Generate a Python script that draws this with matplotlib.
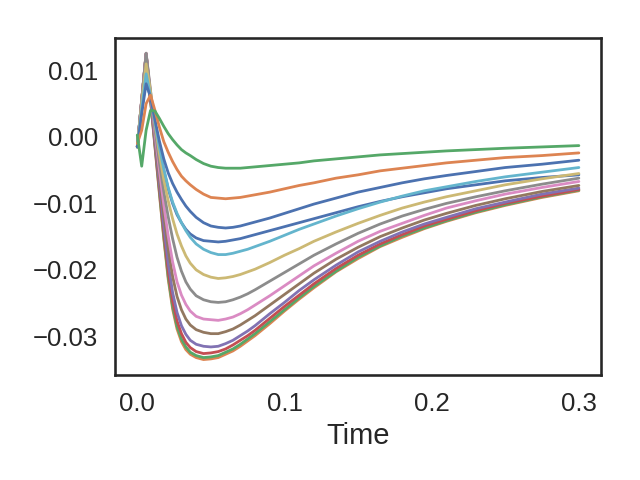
import matplotlib
matplotlib.use('agg')
import matplotlib.pyplot as plt
import matplotlib.ticker as mticker
import seaborn as sns

# sample times
time = [0, 0.003, 0.006, 0.009, 0.012, 0.015, 0.018, 0.021, 0.024, 0.027, 0.03, 0.033,
        0.036, 0.04, 0.045, 0.05, 0.055, 0.06, 0.065, 0.07, 0.075, 0.08, 0.09, 0.1,
        0.11, 0.12, 0.135, 0.15, 0.165, 0.18, 0.195, 0.21, 0.23, 0.25, 0.275, 0.3]

# one response per run (drawn in this order)
run_00 = [-0.0015, 0.0040, 0.0088, 0.0058, 0.0019, -0.0018, -0.0050, -0.0078, -0.0100, -0.0117, -0.0129, -0.0139,
          -0.0146, -0.0152, -0.0156, -0.0157, -0.0158, -0.0157, -0.0155, -0.0153, -0.0150, -0.0147, -0.0141, -0.0135,
          -0.0129, -0.0123, -0.0114, -0.0105, -0.0097, -0.0090, -0.0084, -0.0078, -0.0072, -0.0066, -0.0061, -0.0057]
run_01 = [-0.0015, 0.0055, 0.0125, 0.0055, -0.0015, -0.0085, -0.0153, -0.0214, -0.0259, -0.0289, -0.0308, -0.0320,
          -0.0327, -0.0332, -0.0335, -0.0334, -0.0332, -0.0327, -0.0322, -0.0315, -0.0307, -0.0299, -0.0281, -0.0262,
          -0.0244, -0.0227, -0.0203, -0.0183, -0.0165, -0.0151, -0.0138, -0.0127, -0.0114, -0.0103, -0.0091, -0.0081]
run_02 = [-0.0015, 0.0055, 0.0125, 0.0056, -0.0013, -0.0082, -0.0150, -0.0210, -0.0255, -0.0285, -0.0304, -0.0316,
          -0.0324, -0.0329, -0.0332, -0.0331, -0.0329, -0.0324, -0.0319, -0.0312, -0.0304, -0.0296, -0.0278, -0.0260,
          -0.0242, -0.0225, -0.0202, -0.0181, -0.0164, -0.0149, -0.0137, -0.0126, -0.0113, -0.0102, -0.0090, -0.0080]
run_03 = [-0.0015, 0.0055, 0.0125, 0.0058, -0.0010, -0.0077, -0.0143, -0.0202, -0.0247, -0.0277, -0.0296, -0.0309,
          -0.0317, -0.0323, -0.0326, -0.0325, -0.0323, -0.0319, -0.0313, -0.0306, -0.0299, -0.0291, -0.0273, -0.0255,
          -0.0238, -0.0221, -0.0198, -0.0178, -0.0161, -0.0147, -0.0134, -0.0124, -0.0111, -0.0100, -0.0089, -0.0079]
run_04 = [-0.0015, 0.0055, 0.0125, 0.0060, -0.0006, -0.0070, -0.0133, -0.0190, -0.0234, -0.0264, -0.0284, -0.0297,
          -0.0306, -0.0312, -0.0315, -0.0316, -0.0315, -0.0311, -0.0306, -0.0299, -0.0292, -0.0284, -0.0266, -0.0249,
          -0.0231, -0.0215, -0.0193, -0.0173, -0.0157, -0.0143, -0.0131, -0.0121, -0.0108, -0.0098, -0.0086, -0.0077]
run_05 = [-0.0015, 0.0055, 0.0126, 0.0063, 0.0000, -0.0060, -0.0117, -0.0168, -0.0210, -0.0240, -0.0260, -0.0274,
          -0.0283, -0.0290, -0.0294, -0.0296, -0.0296, -0.0293, -0.0289, -0.0283, -0.0276, -0.0269, -0.0253, -0.0237,
          -0.0221, -0.0205, -0.0184, -0.0166, -0.0150, -0.0137, -0.0125, -0.0115, -0.0103, -0.0093, -0.0082, -0.0073]
run_06 = [-0.0015, 0.0056, 0.0126, 0.0066, 0.0006, -0.0050, -0.0102, -0.0149, -0.0188, -0.0218, -0.0238, -0.0252,
          -0.0262, -0.0270, -0.0274, -0.0275, -0.0276, -0.0274, -0.0271, -0.0266, -0.0260, -0.0253, -0.0239, -0.0224,
          -0.0209, -0.0194, -0.0175, -0.0157, -0.0142, -0.0130, -0.0118, -0.0107, -0.0096, -0.0086, -0.0076, -0.0067]
run_07 = [-0.0015, 0.0056, 0.0126, 0.0070, 0.0013, -0.0038, -0.0082, -0.0120, -0.0153, -0.0181, -0.0202, -0.0218,
          -0.0229, -0.0239, -0.0245, -0.0248, -0.0249, -0.0248, -0.0245, -0.0241, -0.0236, -0.0230, -0.0217, -0.0204,
          -0.0191, -0.0178, -0.0161, -0.0145, -0.0131, -0.0119, -0.0109, -0.0100, -0.0090, -0.0081, -0.0071, -0.0062]
run_08 = [-0.0015, 0.0050, 0.0110, 0.0068, 0.0020, -0.0025, -0.0064, -0.0096, -0.0123, -0.0146, -0.0164, -0.0179,
          -0.0190, -0.0200, -0.0207, -0.0211, -0.0213, -0.0212, -0.0210, -0.0207, -0.0203, -0.0199, -0.0189, -0.0178,
          -0.0168, -0.0157, -0.0143, -0.0130, -0.0118, -0.0107, -0.0098, -0.0090, -0.0081, -0.0072, -0.0063, -0.0055]
run_09 = [-0.0015, 0.0042, 0.0095, 0.0062, 0.0022, -0.0015, -0.0048, -0.0076, -0.0098, -0.0115, -0.0129, -0.0141,
          -0.0151, -0.0161, -0.0169, -0.0174, -0.0177, -0.0177, -0.0175, -0.0172, -0.0169, -0.0165, -0.0157, -0.0148,
          -0.0139, -0.0131, -0.0119, -0.0108, -0.0098, -0.0089, -0.0081, -0.0075, -0.0067, -0.0060, -0.0053, -0.0046]
run_10 = [-0.0015, 0.0035, 0.0080, 0.0060, 0.0026, -0.0006, -0.0033, -0.0054, -0.0070, -0.0083, -0.0094, -0.0104,
          -0.0112, -0.0121, -0.0129, -0.0134, -0.0136, -0.0137, -0.0136, -0.0134, -0.0131, -0.0128, -0.0122, -0.0115,
          -0.0108, -0.0101, -0.0092, -0.0083, -0.0076, -0.0069, -0.0063, -0.0058, -0.0052, -0.0046, -0.0041, -0.0035]
run_11 = [-0.0010, 0.0010, 0.0050, 0.0063, 0.0040, 0.0015, -0.0007, -0.0023, -0.0037, -0.0049, -0.0059, -0.0066,
          -0.0072, -0.0079, -0.0086, -0.0091, -0.0092, -0.0093, -0.0092, -0.0091, -0.0089, -0.0087, -0.0083, -0.0078,
          -0.0073, -0.0069, -0.0062, -0.0057, -0.0051, -0.0047, -0.0043, -0.0039, -0.0035, -0.0031, -0.0028, -0.0024]
run_12 = [0.0003, -0.0044, 0.0010, 0.0040, 0.0039, 0.0028, 0.0016, 0.0005, -0.0004, -0.0012, -0.0019, -0.0024,
          -0.0028, -0.0034, -0.0040, -0.0044, -0.0046, -0.0047, -0.0047, -0.0047, -0.0046, -0.0045, -0.0043, -0.0041,
          -0.0039, -0.0036, -0.0033, -0.0030, -0.0027, -0.0025, -0.0023, -0.0021, -0.0019, -0.0017, -0.0015, -0.0013]

runs = [run_00, run_01, run_02, run_03, run_04, run_05, run_06,
        run_07, run_08, run_09, run_10, run_11, run_12]

sns.set_theme(context='talk', style='white', palette='deep')
plt.rcParams['font.family'] = ['Liberation Sans', 'DejaVu Sans']

fig, ax = plt.subplots(figsize=(6.4, 4.8), dpi=100)
colors = sns.color_palette('deep', 10)
for i, run in enumerate(runs):
    ax.plot(time, run, color=colors[i % 10], lw=2.0)

ax.xaxis.set_major_locator(mticker.MultipleLocator(0.1))
ax.yaxis.set_major_locator(mticker.MultipleLocator(0.01))
ax.tick_params(labelsize=18.5)
ax.set_xlabel('Time', fontsize=21)

fig.subplots_adjust(left=0.18, right=0.939, top=0.921, bottom=0.219)
plt.savefig('out.png', dpi=100)
